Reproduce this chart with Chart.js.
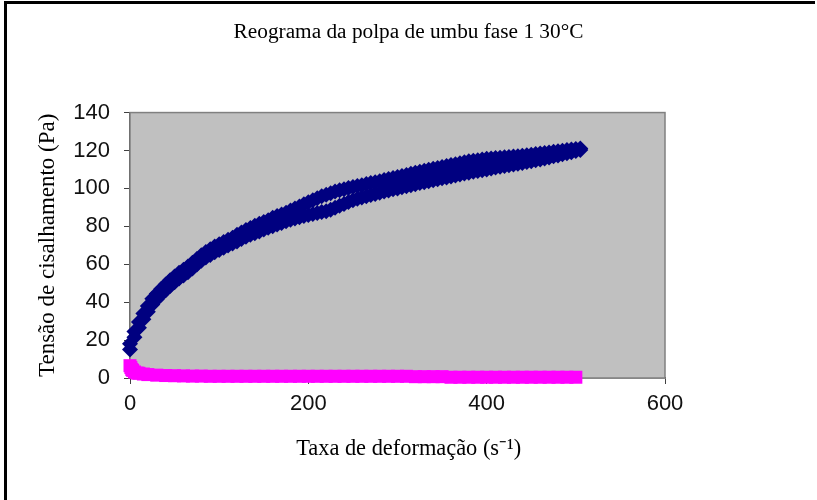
<!DOCTYPE html>
<html>
<head>
<meta charset="utf-8">
<script src="https://cdn.jsdelivr.net/npm/chart.js@4.4.1/dist/chart.umd.min.js"></script>
<style>
  body { margin: 0; background: #fff; }
  #wrap { position: relative; width: 817px; height: 500px; }
  #frame { position: absolute; left: 4px; top: 1px; width: 811px; height: 499px;
           border-top: 3px solid #000; border-left: 3px solid #000; box-sizing: border-box; pointer-events: none; }
</style>
</head>
<body>
<div id="wrap">
  <canvas id="myChart" width="817" height="500"></canvas>
  <div id="frame"></div>
</div>
<script>
// taxa de deformação (s-1) da série azul, ida e volta
const rateBlue = [0, 5, 10, 15, 20, 25, 30, 35, 40, 45, 50, 55, 60, 65, 70, 75, 80, 85, 90, 95,
  100, 105, 110, 115, 120, 125, 130, 135, 140, 145, 150, 155, 160, 165, 170, 175, 180, 185, 190, 195,
  200, 205, 210, 215, 220, 225, 230, 235, 240, 245, 250, 255, 260, 265, 270, 275, 280, 285, 290, 295,
  300, 305, 310, 315, 320, 325, 330, 335, 340, 345, 350, 355, 360, 365, 370, 375, 380, 385, 390, 395,
  400, 405, 410, 415, 420, 425, 430, 435, 440, 445, 450, 455, 460, 465, 470, 475, 480, 485, 490, 495,
  500, 505];
const stressUp = [18, 24.5, 29.5, 34, 38, 41.8, 44.5, 47, 49.3, 51.5, 53.5, 55.5, 57.1, 58.8, 60.8, 62.8, 64.8, 66.5, 67.9, 69.3,
  70.5, 71.7, 72.9, 74, 75.5, 76.8, 78, 79.1, 80.3, 81.3, 82.3, 83.2, 84.5, 85.4, 86.3, 87.2, 88.3, 89.4, 90.5, 91.6,
  92.7, 93.8, 94.8, 95.8, 96.7, 97.5, 98.3, 99, 99.6, 100.2, 100.7, 101.2, 101.7, 102.3, 102.8, 103.3, 103.8, 104.4, 104.9, 105.5,
  106, 106.6, 107.1, 107.7, 108.2, 108.8, 109.3, 109.8, 110.3, 110.8, 111.3, 111.8, 112.3, 112.8, 113.3, 113.8, 114.3, 114.6, 114.9, 115.3,
  115.6, 115.8, 116, 116.2, 116.4, 116.6, 116.8, 117, 117.2, 117.5, 117.8, 118.1, 118.4, 118.7, 119, 119.3, 119.6, 119.9, 120.2, 120.5,
  120.8, 121];
const stressDown = [15, 21.5, 26.5, 31, 35, 38.8, 41.5, 44, 46.3, 48.5, 50.5, 52.5, 54.1, 55.8, 57.8, 59.8, 61.8, 63.5, 64.9, 66.3,
  67.5, 68.7, 69.9, 71, 72, 73.3, 74.5, 75.6, 76.3, 77.3, 78.3, 79.2, 80, 80.9, 81.8, 82.7, 83.4, 84.1, 84.8, 85.4,
  86, 86.5, 87, 87.5, 88, 88.8, 89.8, 90.8, 91.8, 92.8, 93.7, 94.5, 95.2, 95.9, 96.5, 97.1, 97.7, 98.4, 98.9, 99.5,
  100, 100.6, 101.1, 101.7, 102.2, 102.8, 103.3, 103.8, 104.3, 104.8, 105.3, 105.8, 106.3, 106.8, 107.3, 107.8, 108.3, 108.8, 109.2, 109.6,
  110, 110.5, 111, 111.4, 111.8, 112.2, 112.6, 113, 113.4, 113.9, 114.3, 114.8, 115.3, 115.8, 116.3, 116.9, 117.4, 118, 118.5, 119.1,
  119.7, 120.3];

// série rosa
const ratePink = [0, 1, 2, 3, 5, 8, 10, 15, 20, 30, 40, 50, 60, 70, 80, 90, 100, 110, 120, 130, 140, 150, 160, 170, 180, 190,
  200, 210, 220, 230, 240, 250, 260, 270, 280, 290, 300, 310, 320, 330, 340, 350, 360, 370, 380, 390,
  400, 410, 420, 430, 440, 450, 460, 470, 480, 490, 500];
const stressPink = [6.5, 5.5, 4.5, 4, 3.2, 2.6, 2.5, 2.1, 1.8, 1.5, 1.3, 1.2, 1.1, 1, 1, 0.9, 0.9, 0.9, 0.9, 0.9, 0.9, 0.9, 0.9, 0.9, 0.9, 0.9,
  0.9, 0.9, 0.9, 0.9, 0.9, 0.9, 0.9, 0.9, 0.9, 0.9, 0.9, 0.9, 0.7, 0.7, 0.7, 0.7, 0.4, 0.4, 0.4, 0.4,
  0.4, 0.4, 0.4, 0.4, 0.4, 0.4, 0.4, 0.4, 0.4, 0.4, 0.4];

const xTicks = [0, 200, 400, 600];
const yTicks = [0, 20, 40, 60, 80, 100, 120, 140];

function pts(xs, ys) {
  return xs.map((x, i) => ({ x: x, y: ys[i] }));
}

const plotBg = {
  id: 'plotBg',
  beforeDatasetsDraw(chart) {
    const { ctx, chartArea: a } = chart;
    ctx.save();
    ctx.fillStyle = '#c0c0c0';
    ctx.fillRect(a.left, a.top, a.right - a.left, a.bottom - a.top);
    ctx.strokeStyle = '#808080';
    ctx.lineWidth = 1.5;
    ctx.strokeRect(a.left, a.top, a.right - a.left, a.bottom - a.top);
    ctx.restore();
  }
};

const blue = '#000080';
const pink = '#ff00ff';
const serif = 'Liberation Serif';
const sans = 'Liberation Sans';

new Chart('myChart', {
  type: 'scatter',
  data: {
    datasets: [
      { data: pts(ratePink, stressPink), backgroundColor: pink, borderColor: pink, pointStyle: 'rect', pointRadius: 9.2, borderWidth: 0, clip: false },
      { data: pts(rateBlue, stressUp), backgroundColor: blue, borderColor: blue, pointStyle: 'rectRot', pointRadius: 8, borderWidth: 0, clip: false },
      { data: pts(rateBlue, stressDown), backgroundColor: blue, borderColor: blue, pointStyle: 'rectRot', pointRadius: 8, borderWidth: 0, clip: false }
    ]
  },
  options: {
    responsive: false,
    animation: false,
    layout: { padding: 0 },
    plugins: {
      legend: { display: false },
      tooltip: { enabled: false },
      title: {
        display: true,
        text: 'Reograma da polpa de umbu fase 1 30°C',
        color: '#000',
        font: { family: serif, size: 21.3, weight: 'normal' },
        padding: { top: 20, bottom: 67 }
      }
    },
    scales: {
      x: {
        type: 'linear',
        min: 0, max: 600,
        afterBuildTicks(s) { s.ticks = xTicks.map(v => ({ value: v })); },
        afterFit(s) { s.height = 122; },
        border: { color: '#404040', width: 1.5 },
        grid: { drawOnChartArea: false, drawTicks: true, tickLength: 6, color: '#404040' },
        ticks: { color: '#111', font: { family: sans, size: 22 }, padding: 7, maxRotation: 0 },
        title: {
          display: true,
          // espaços à esquerda para deslocar o título um pouco à direita, como no original
          text: '\u2002\u2002Taxa de deformação (s⁻¹)',
          color: '#000',
          font: { family: serif, size: 22.4 },
          padding: { top: 0, bottom: 37 }
        }
      },
      y: {
        type: 'linear',
        min: 0, max: 140,
        afterBuildTicks(s) { s.ticks = yTicks.map(v => ({ value: v })); },
        afterFit(s) { s.width = 130; },
        border: { color: '#404040', width: 1.5 },
        grid: { drawOnChartArea: false, drawTicks: true, tickLength: 6, color: '#404040' },
        ticks: { color: '#111', font: { family: sans, size: 22 }, padding: 14 },
        title: {
          display: true,
          text: 'Tensão de cisalhamento (Pa)',
          color: '#000',
          font: { family: serif, size: 23 },
          padding: { top: 34, bottom: 0 }
        }
      },
      // eixo vazio à direita, só para reservar a margem
      yRight: {
        position: 'right',
        afterFit(s) { s.width = 152; },
        grid: { display: false },
        border: { display: false },
        ticks: { display: false }
      }
    }
  },
  plugins: [plotBg]
});
</script>
</body>
</html>
